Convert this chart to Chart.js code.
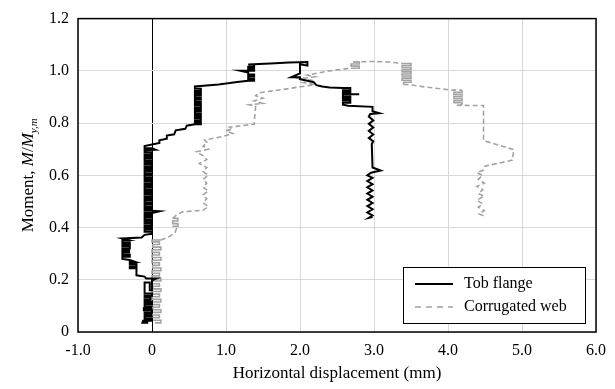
<!DOCTYPE html>
<html>
<head>
<meta charset="utf-8">
<script src="https://cdn.jsdelivr.net/npm/chart.js@4.4.1/dist/chart.umd.min.js"></script>
<style>
  html, body { margin: 0; padding: 0; background: #fff; }
  #wrap { width: 615px; height: 389px; }
</style>
</head>
<body>
<div id="wrap"><canvas id="chart" width="615" height="389"></canvas></div>
<script>
const seriesNames = ['Tob flange', 'Corrugated web'];
const xTicks = [-1, 0, 1, 2, 3, 4, 5, 6];
const yTicks = [0, 0.2, 0.4, 0.6, 0.8, 1.0, 1.2];

// [displacement mm, M/My,m], in loading order
const tobFlange = [
    [-0.05,0.035],[-0.13,0.035],[-0.12,0.043],[0.0,0.043],[0.0,0.051],[-0.1,0.051],[-0.1,0.059],[-0.01,0.059],
    [-0.01,0.067],[-0.1,0.067],[-0.1,0.075],[0.0,0.075],[0.0,0.083],[-0.11,0.083],[-0.11,0.091],[-0.01,0.091],
    [-0.01,0.099],[-0.1,0.099],[-0.1,0.107],[0.0,0.107],[0.0,0.115],[-0.1,0.115],[-0.1,0.123],[-0.02,0.123],
    [-0.02,0.131],[-0.1,0.131],[-0.1,0.139],[0.0,0.139],[0.0,0.147],[-0.1,0.147],[-0.1,0.19],[-0.03,0.19],
    [-0.03,0.16],[0.0,0.16],[0.0,0.198],[0.06,0.205],[-0.08,0.205],[-0.1,0.212],[-0.21,0.217],
    [-0.21,0.244],[-0.3,0.244],[-0.3,0.252],[-0.21,0.252],[-0.21,0.26],[-0.3,0.26],[-0.3,0.268],[-0.22,0.268],
    [-0.3,0.276],[-0.4,0.28],[-0.4,0.288],[-0.3,0.288],[-0.3,0.296],[-0.4,0.296],[-0.4,0.304],[-0.31,0.304],
    [-0.31,0.312],[-0.4,0.312],[-0.4,0.32],[-0.3,0.32],[-0.3,0.328],[-0.4,0.328],[-0.4,0.336],[-0.3,0.336],
    [-0.3,0.344],[-0.4,0.344],[-0.4,0.352],[-0.32,0.352],[-0.4,0.358],[-0.14,0.362],[-0.1,0.372],
    [0.0,0.376],[0.0,0.384],[-0.1,0.384],[-0.1,0.392],[0.0,0.392],[0.0,0.4],[-0.1,0.4],[-0.1,0.408],
    [-0.01,0.408],[-0.01,0.416],[-0.1,0.416],[-0.1,0.424],[0.0,0.424],[0.0,0.432],[-0.1,0.432],[-0.1,0.44],
    [0.0,0.44],[0.0,0.448],[-0.1,0.448],[-0.1,0.456],[0.0,0.456],[0.1,0.462],[0.0,0.464],[-0.1,0.464],
    [-0.1,0.472],[0.0,0.472],[0.0,0.48],[-0.1,0.48],[-0.1,0.488],[-0.01,0.488],[-0.01,0.496],[-0.1,0.496],
    [-0.1,0.504],[0.0,0.504],[0.0,0.512],[-0.1,0.512],[-0.1,0.52],[0.0,0.52],[0.0,0.528],[-0.1,0.528],
    [-0.1,0.536],[0.0,0.536],[0.0,0.544],[-0.1,0.544],[-0.1,0.552],[-0.01,0.552],[-0.01,0.56],[-0.1,0.56],
    [-0.1,0.568],[0.0,0.568],[0.0,0.576],[-0.1,0.576],[-0.1,0.584],[0.0,0.584],[0.0,0.592],[-0.1,0.592],
    [-0.1,0.6],[0.0,0.6],[0.0,0.608],[-0.1,0.608],[-0.1,0.616],[-0.01,0.616],[-0.01,0.624],[-0.1,0.624],
    [-0.1,0.632],[0.0,0.632],[0.0,0.64],[-0.1,0.64],[-0.1,0.648],[0.0,0.648],[0.0,0.656],[-0.1,0.656],
    [-0.1,0.664],[0.0,0.664],[0.0,0.672],[-0.1,0.672],[-0.1,0.68],[-0.01,0.68],[-0.01,0.688],[-0.1,0.688],
    [-0.1,0.696],[0.05,0.698],[0.0,0.704],[-0.1,0.704],[-0.1,0.712],[0.0,0.718],
    [0.1,0.724],[0.1,0.734],[0.2,0.74],[0.2,0.752],[0.3,0.757],[0.32,0.772],[0.45,0.778],[0.47,0.79],
    [0.58,0.795],[0.66,0.795],[0.66,0.803],[0.58,0.803],[0.58,0.811],[0.66,0.811],[0.66,0.819],[0.58,0.819],
    [0.58,0.827],[0.66,0.827],[0.66,0.835],[0.58,0.835],[0.58,0.843],[0.66,0.843],[0.66,0.851],[0.58,0.851],
    [0.58,0.859],[0.66,0.859],[0.66,0.867],[0.58,0.867],[0.58,0.875],[0.66,0.875],[0.66,0.883],[0.58,0.883],
    [0.58,0.891],[0.66,0.891],[0.66,0.899],[0.58,0.899],[0.58,0.907],[0.66,0.907],[0.66,0.915],[0.58,0.915],
    [0.58,0.923],[0.66,0.923],[0.66,0.931],[0.58,0.931],[0.58,0.94],
    [0.9,0.948],[1.05,0.953],[1.15,0.957],[1.3,0.962],
    [1.38,0.962],[1.38,0.97],[1.3,0.97],[1.3,0.978],[1.38,0.978],[1.38,0.986],[1.3,0.986],[1.3,0.994],
    [1.2,1.0],[1.38,1.0],[1.38,1.008],[1.3,1.008],[1.3,1.016],[1.38,1.016],[1.38,1.024],[1.3,1.024],
    [1.6,1.028],[1.85,1.032],[2.1,1.034],[2.1,1.02],[2.0,1.025],[2.0,0.99],[1.88,0.975],[2.0,0.975],
    [2.0,0.968],[2.1,0.962],[2.19,0.956],[2.22,0.945],[2.3,0.94],[2.4,0.936],[2.58,0.934],
    [2.68,0.934],[2.68,0.926],[2.58,0.926],[2.58,0.918],[2.68,0.918],[2.68,0.91],[2.8,0.91],[2.58,0.91],
    [2.58,0.902],[2.68,0.902],[2.68,0.894],[2.58,0.894],[2.58,0.886],[2.68,0.886],[2.68,0.878],[2.58,0.878],
    [2.58,0.87],[2.65,0.866],
    [2.98,0.862],[2.98,0.845],[3.07,0.838],[2.95,0.835],
    [2.93,0.825],[2.99,0.81],[2.93,0.797],[2.99,0.783],[2.93,0.77],[2.99,0.756],[2.93,0.743],[2.99,0.73],
    [2.97,0.72],[2.98,0.63],[3.09,0.618],[2.96,0.61],
    [2.91,0.6],[2.98,0.59],[2.91,0.578],[2.98,0.566],[2.91,0.554],[2.98,0.542],[2.91,0.53],[2.98,0.518],
    [2.91,0.506],[2.98,0.494],[2.91,0.482],[2.98,0.47],[2.91,0.458],[2.98,0.446],[2.93,0.437],[2.98,0.44]
];

const corrugatedWeb = [
    [0.04,0.035],[0.12,0.035],[0.12,0.045],[0.0,0.045],[0.0,0.055],[0.1,0.055],[0.1,0.065],[0.0,0.065],
    [0.0,0.075],[0.12,0.075],[0.12,0.085],[0.01,0.085],[0.01,0.095],[0.1,0.095],[0.1,0.105],[0.0,0.105],
    [0.0,0.115],[0.12,0.115],[0.12,0.125],[0.0,0.125],[0.0,0.135],[0.1,0.135],[0.1,0.145],[0.0,0.145],
    [0.0,0.155],[0.12,0.155],[0.12,0.165],[0.01,0.165],[0.01,0.175],[0.1,0.175],[0.1,0.185],[0.0,0.185],
    [0.0,0.195],[0.12,0.195],[0.12,0.205],[0.0,0.205],[0.0,0.215],[0.1,0.215],[0.1,0.225],[0.0,0.225],
    [0.0,0.235],[0.12,0.235],[0.12,0.245],[0.01,0.245],[0.01,0.255],[0.1,0.255],[0.1,0.265],[0.0,0.265],
    [0.0,0.275],[0.12,0.275],[0.12,0.285],[0.0,0.285],[0.0,0.295],[0.1,0.295],[0.1,0.305],[0.0,0.305],
    [0.0,0.315],[0.12,0.315],[0.12,0.325],[0.01,0.325],[0.01,0.335],[0.1,0.335],[0.1,0.345],[0.0,0.345],
    [0.0,0.352],[0.12,0.352],[0.24,0.366],[0.31,0.38],[0.33,0.395],[0.28,0.405],[0.35,0.405],[0.35,0.415],
    [0.28,0.415],[0.28,0.425],[0.35,0.425],[0.35,0.435],[0.28,0.435],[0.33,0.448],[0.41,0.46],[0.69,0.466],
    [0.76,0.48],[0.69,0.495],[0.74,0.51],[0.69,0.525],[0.76,0.54],[0.69,0.555],[0.74,0.57],[0.69,0.585],
    [0.76,0.60],[0.69,0.615],[0.74,0.63],[0.64,0.645],[0.74,0.66],[0.69,0.675],[0.6,0.69],[0.76,0.7],
    [0.69,0.712],[0.75,0.725],[0.71,0.735],
    [0.95,0.748],[1.0,0.752],[1.09,0.76],[1.0,0.77],[1.09,0.778],[1.05,0.784],[1.38,0.796],
    [1.4,0.865],[1.32,0.87],[1.5,0.875],[1.38,0.885],[1.5,0.895],[1.4,0.905],[1.45,0.916],
    [1.8,0.93],[2.03,0.94],
    [2.2,0.947],[2.05,0.955],[2.2,0.962],[2.0,0.97],[2.2,0.977],[2.1,0.984],
    [2.4,1.0],[2.69,1.01],
    [2.8,1.01],[2.8,1.018],[2.69,1.018],[2.69,1.026],[2.8,1.026],[2.8,1.034],[2.72,1.034],
    [2.98,1.036],[3.2,1.034],[3.38,1.028],
    [3.5,1.028],[3.5,1.02],[3.38,1.02],[3.38,1.012],[3.5,1.012],[3.5,1.004],[3.38,1.004],[3.38,0.996],
    [3.5,0.996],[3.5,0.988],[3.38,0.988],[3.38,0.98],[3.5,0.98],[3.5,0.972],[3.38,0.972],[3.38,0.964],
    [3.5,0.964],[3.5,0.956],[3.4,0.956],[3.4,0.948],[3.5,0.946],
    [3.7,0.938],[4.05,0.926],
    [4.19,0.926],[4.19,0.918],[4.08,0.918],[4.08,0.91],[4.19,0.91],[4.19,0.902],[4.08,0.902],[4.08,0.894],
    [4.19,0.894],[4.19,0.886],[4.08,0.886],[4.08,0.878],[4.19,0.878],[4.19,0.87],[4.1,0.868],
    [4.48,0.867],[4.48,0.733],[4.55,0.727],[4.89,0.698],[4.87,0.658],[4.5,0.635],[4.48,0.62],
    [4.39,0.61],[4.47,0.6],[4.41,0.585],[4.49,0.57],[4.39,0.558],[4.47,0.545],[4.41,0.53],[4.49,0.52],
    [4.39,0.505],[4.47,0.49],[4.41,0.478],[4.49,0.465],[4.42,0.452],[4.48,0.445]
];

const serif = '"Liberation Serif", "Times New Roman", serif';
const colors = ['#000000', '#a3a3a3'];
const dashes = [[], [5, 3]];

const toPoints = function(pairs){
    return pairs.map(p => ({x: p[0], y: p[1]}));
};

const fmt = function(v){
    return Math.abs(v) < 1e-9 ? '0' : v.toFixed(1);
};

// short straight hatch strokes in the dense bands come out solid, like the original
const hatchSolid = function(seg){
    const dx = Math.abs(seg.p1.x - seg.p0.x);
    const dy = Math.abs(seg.p1.y - seg.p0.y);
    const straight = dx < 0.5 || dy < 0.5;
    return (straight && Math.hypot(dx, dy) < 10) ? [] : undefined;
};

// frame, y title with italics/subscript, boxed legend
const extras = {
    id: 'extras',
    afterDraw(chart){
        const ctx = chart.ctx;
        const a = chart.chartArea;
        ctx.save();

        ctx.strokeStyle = '#000';
        ctx.lineWidth = 1.5;
        ctx.strokeRect(a.left, a.top, a.right - a.left, a.bottom - a.top);

        // y axis title
        ctx.translate(27, (a.top + a.bottom) / 2);
        ctx.rotate(-Math.PI / 2);
        ctx.fillStyle = '#000';
        ctx.textBaseline = 'alphabetic';
        const parts = [
            {t: 'Moment, ', f: '17px ' + serif, dy: 0},
            {t: 'M', f: 'italic 17px ' + serif, dy: 0},
            {t: '/', f: '17px ' + serif, dy: 0},
            {t: 'M', f: 'italic 17px ' + serif, dy: 0},
            {t: 'y,m', f: 'italic 11px ' + serif, dy: 4}
        ];
        let total = 0;
        parts.forEach(p => { ctx.font = p.f; p.w = ctx.measureText(p.t).width; total += p.w; });
        let cx = -total / 2;
        parts.forEach(p => {
            ctx.font = p.f;
            ctx.fillText(p.t, cx, 6 + p.dy);
            cx += p.w;
        });
        ctx.setTransform(1, 0, 0, 1, 0, 0);

        // legend box
        const bw = 182, bh = 56;
        const bx = a.right - 11 - bw;
        const by = a.bottom - 9 - bh;
        ctx.fillStyle = '#fff';
        ctx.fillRect(bx, by, bw, bh);
        ctx.strokeStyle = '#000';
        ctx.lineWidth = 1;
        ctx.strokeRect(bx + 0.5, by + 0.5, bw, bh);
        ctx.font = '16px ' + serif;
        ctx.textBaseline = 'middle';
        chart.data.datasets.forEach((ds, i) => {
            const ly = by + 17 + i * 23;
            ctx.strokeStyle = ds.borderColor;
            ctx.lineWidth = ds.borderWidth;
            ctx.setLineDash(i === 0 ? [] : [6, 5]);
            ctx.beginPath();
            ctx.moveTo(bx + 12, ly);
            ctx.lineTo(bx + 50, ly);
            ctx.stroke();
            ctx.setLineDash([]);
            ctx.fillStyle = '#000';
            ctx.fillText(ds.label, bx + 61, ly);
        });
        ctx.restore();
    }
};

const chartCtx = document.getElementById('chart');

new Chart(chartCtx, {
    type: 'scatter',
    data: {
        datasets: [tobFlange, corrugatedWeb].map((pairs, i) => ({
            label: seriesNames[i],
            data: toPoints(pairs),
            showLine: true,
            borderColor: colors[i],
            backgroundColor: colors[i],
            borderWidth: i === 0 ? 2 : 1.6,
            borderDash: dashes[i],
            segment: i === 0 ? {} : { borderDash: hatchSolid },
            pointRadius: 0,
            tension: 0
        }))
    },
    options: {
        responsive: false,
        animation: false,
        layout: { padding: { left: 0, top: 12, right: 18, bottom: 0 } },
        plugins: {
            legend: { display: false },
            tooltip: { enabled: false }
        },
        scales: {
            x: {
                type: 'linear',
                min: xTicks[0],
                max: xTicks[xTicks.length - 1],
                afterBuildTicks: function(scale){ scale.ticks = xTicks.map(v => ({value: v})); },
                afterFit: function(scale){ scale.height = 57; },
                grid: {
                    drawTicks: false,
                    color: c => (c.tick && c.tick.value === 0) ? '#000' : '#d9d9d9',
                    lineWidth: 1
                },
                border: { display: false },
                ticks: {
                    padding: 9,
                    color: '#000',
                    font: { family: serif, size: 16 },
                    callback: v => fmt(v)
                },
                title: {
                    display: true,
                    text: 'Horizontal displacement (mm)',
                    color: '#000',
                    font: { family: serif, size: 17 },
                    padding: { top: 2, bottom: 5 }
                }
            },
            y: {
                type: 'linear',
                min: yTicks[0],
                max: yTicks[yTicks.length - 1],
                afterBuildTicks: function(scale){ scale.ticks = yTicks.map(v => ({value: v})); },
                afterFit: function(scale){ scale.width = 78; },
                grid: {
                    drawTicks: false,
                    color: '#d9d9d9',
                    lineWidth: 1
                },
                border: { display: false },
                ticks: {
                    padding: 9,
                    color: '#000',
                    font: { family: serif, size: 16 },
                    callback: v => fmt(v)
                }
            }
        }
    },
    plugins: [extras]
});
</script>
</body>
</html>
